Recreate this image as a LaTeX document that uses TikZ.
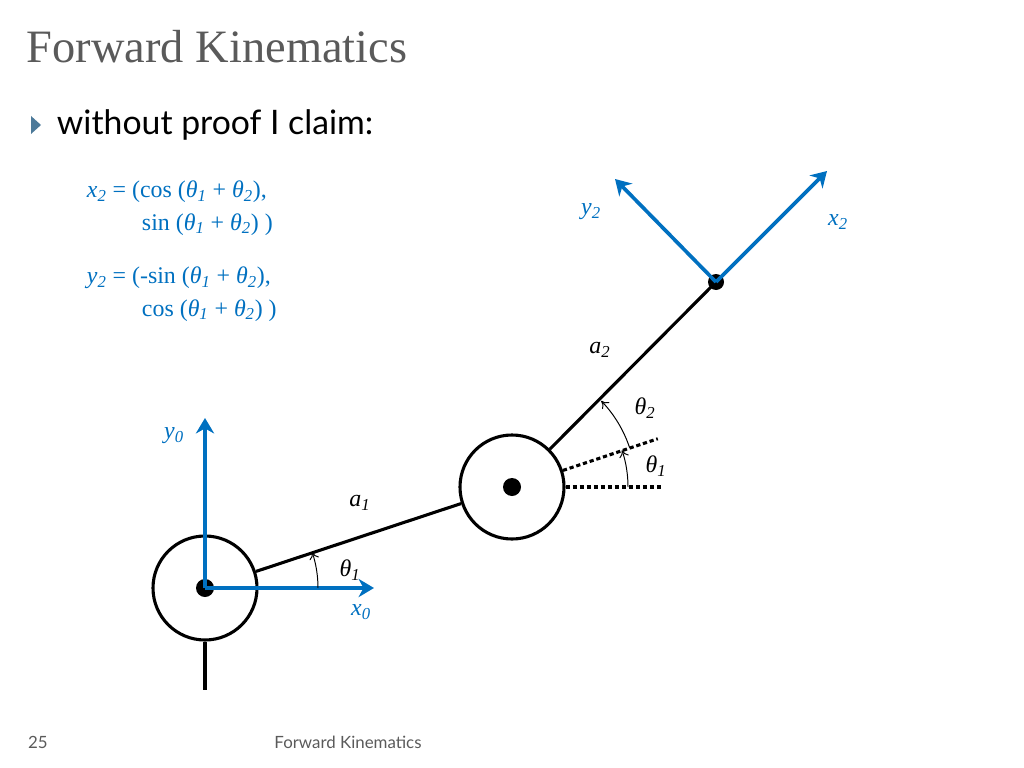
\documentclass[tikz,border=0pt]{standalone}
\usepackage{fontspec}
\setmainfont{Liberation Serif}
\newfontfamily\slidefont{Lato}
\usetikzlibrary{arrows.meta}
\definecolor{axisblue}{RGB}{0,112,192}
\definecolor{titlegray}{RGB}{90,90,90}
\tikzset{
  joint/.style={draw, circle, line width=2.2pt, minimum size=104*0.025cm, inner sep=0pt},
  pin/.style={fill, circle, minimum size=18*0.025cm, inner sep=0pt},
  link/.style={line width=2.2pt},
  axis/.style={draw=axisblue, line width=2.6pt, -{Stealth[length=11pt,width=13pt]}},
  guide/.style={line width=2.2pt, dash pattern=on 3pt off 2pt},
  angle/.style={line width=0.7pt, -{To[length=5pt,width=7pt]}},
  lbl/.style={font=\fontsize{17}{19}\selectfont\itshape},
  bluelbl/.style={lbl, text=axisblue}
}
\begin{document}
\begin{tikzpicture}[x=0.025cm, y=-0.025cm]
\useasboundingbox (0,0) rectangle (1024,768);

% title and bullet
\node[anchor=west, text=titlegray, font=\fontsize{33}{36}\selectfont] at (22,47) (title) {Forward Kinematics};
\fill[axisblue!40!gray] (31,116) -- (41,125) -- (31,134) -- cycle;
\node[anchor=west, font=\slidefont\fontsize{24}{28}\selectfont] at (52,125) (claim) {without proof I claim:};

% equations
\node[anchor=north west, text=axisblue, align=left, font=\fontsize{17}{23}\selectfont] at (82,176) (eqx)
  {\textit{x}\textsubscript{\textit{2}} = (cos (\textit{θ}\textsubscript{\textit{1}} + \textit{θ}\textsubscript{\textit{2}}),\\
   \hspace{2.3em}sin (\textit{θ}\textsubscript{\textit{1}} + \textit{θ}\textsubscript{\textit{2}}) )};
\node[anchor=north west, text=axisblue, align=left, font=\fontsize{17}{23}\selectfont] at (82,262) (eqy)
  {\textit{y}\textsubscript{\textit{2}} = (-sin (\textit{θ}\textsubscript{\textit{1}} + \textit{θ}\textsubscript{\textit{2}}),\\
   \hspace{2.3em}cos (\textit{θ}\textsubscript{\textit{1}} + \textit{θ}\textsubscript{\textit{2}}) )};

% base joint
\node[joint] at (205,588) (base) {};
\node[pin] at (205,588) (basepin) {};
\coordinate (floor) at (205,690);
\draw[link] (base.south) -- (floor);

% elbow joint
\node[joint] at (512,487) (elbow) {};
\node[pin] at (512,487) (elbowpin) {};
\draw[link] (base.18.5) -- (elbow.198.5);

% end effector
\coordinate (tip) at (716,282);
\draw[link] (elbow.45) -- (tip);
\fill (tip) circle (8);

% base axes
\coordinate (y0end) at (205,418);
\coordinate (x0end) at (374,588);
\draw[axis] (basepin.center) -- (y0end);
\draw[axis] (basepin.center) -- (x0end);
\node[bluelbl] at (174,436) (y0) {y\textsubscript{0}};
\node[bluelbl] at (361,612) (x0) {x\textsubscript{0}};
\node[lbl] at (360,503) (a1) {a\textsubscript{1}};
\draw[angle] (base.center) ++(0:113) arc[start angle=0, end angle=-18.5, radius=113];
\node[lbl] at (350,570) (th1base) {θ\textsubscript{1}};

% elbow guides and angles
\coordinate (hguide) at (662,487);
\draw[guide] (elbow.east) -- (hguide);
\draw[guide] (elbow.18.5) -- ++(-18.5:100);
\draw[angle] (elbow.center) ++(0:116) arc[start angle=0, end angle=-18.5, radius=116];
\draw[angle] (elbow.center) ++(-18.5:124) arc[start angle=-18.5, end angle=-44, radius=124];
\node[lbl] at (656,466) (th1) {θ\textsubscript{1}};
\node[lbl] at (645,408) (th2) {θ\textsubscript{2}};
\node[lbl] at (600,350) (a2) {a\textsubscript{2}};

% end frame
\coordinate (x2end) at (827,171);
\coordinate (y2end) at (615,179);
\draw[axis] (tip) -- (x2end);
\draw[axis] (tip) -- (y2end);
\node[bluelbl] at (591,212) (y2) {y\textsubscript{2}};
\node[bluelbl] at (838,222) (x2) {x\textsubscript{2}};

% footer
\node[font=\slidefont\fontsize{12}{14}\selectfont, text=titlegray] at (38,742) (page) {25};
\node[font=\slidefont\fontsize{12}{14}\selectfont, text=titlegray] at (348,742) (foot) {Forward Kinematics};
\end{tikzpicture}
\end{document}
